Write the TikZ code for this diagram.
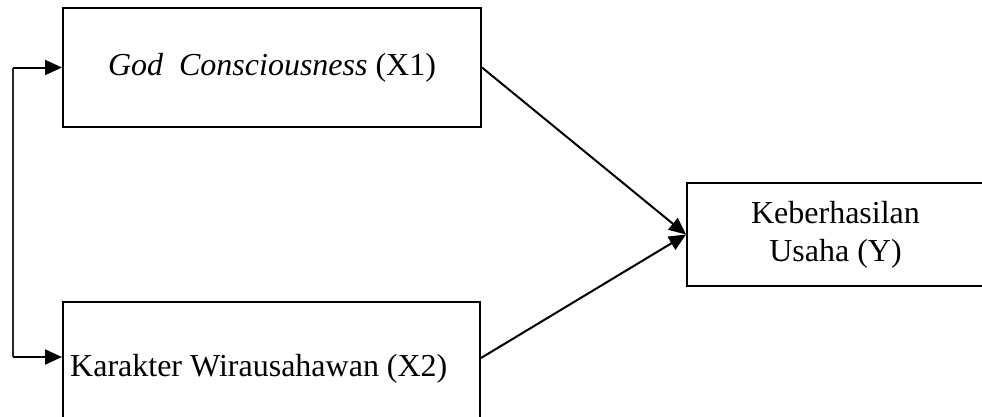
\documentclass[tikz,border=0pt]{standalone}
\usepackage{fontspec}
\setmainfont{Liberation Serif}
\usetikzlibrary{arrows.meta}
\begin{document}
\begin{tikzpicture}[x=1pt,y=-1pt,
  box/.style={draw,line width=2pt,inner sep=0pt},
  lbl/.style={font=\fontsize{32}{38}\selectfont,inner sep=0pt},
  arr/.style={line width=2pt,-{Triangle[length=17pt,width=15pt]}},
  link/.style={line width=1.6pt,draw=black!85}]
\useasboundingbox (0,0) rectangle (982,416);
% boxes
\node[box,minimum width=418pt,minimum height=119pt,lbl] (x1) at (272,67.5)
  {\textit{God\ \ Consciousness} (X1)};
\node[box,minimum width=417pt,minimum height=128pt] (x2) at (271.5,366) {};
\node[lbl,anchor=base west] (x2t) at (70,376) {Karakter Wirausahawan (X2)};
\node[box,minimum width=297pt,minimum height=103pt] (y) at (835.5,234.5) {};
\node[lbl,align=center,anchor=center] (yt) at (835.5,235) {Keberhasilan\\Usaha (Y)};
% left connector
\coordinate (j1) at (13,67.5);
\coordinate (j2) at (13,357);
\draw[link] (j1) -- (j2);
\draw[arr] (j1) -- (x1.west);
\draw[arr] (j2) -- (x2.west |- j2);
% arrows to Y
\draw[arr] (x1.east) -- (y.west);
\draw[arr] ([yshift=-57pt]x2.north east) -- (y.west);
\end{tikzpicture}
\end{document}
